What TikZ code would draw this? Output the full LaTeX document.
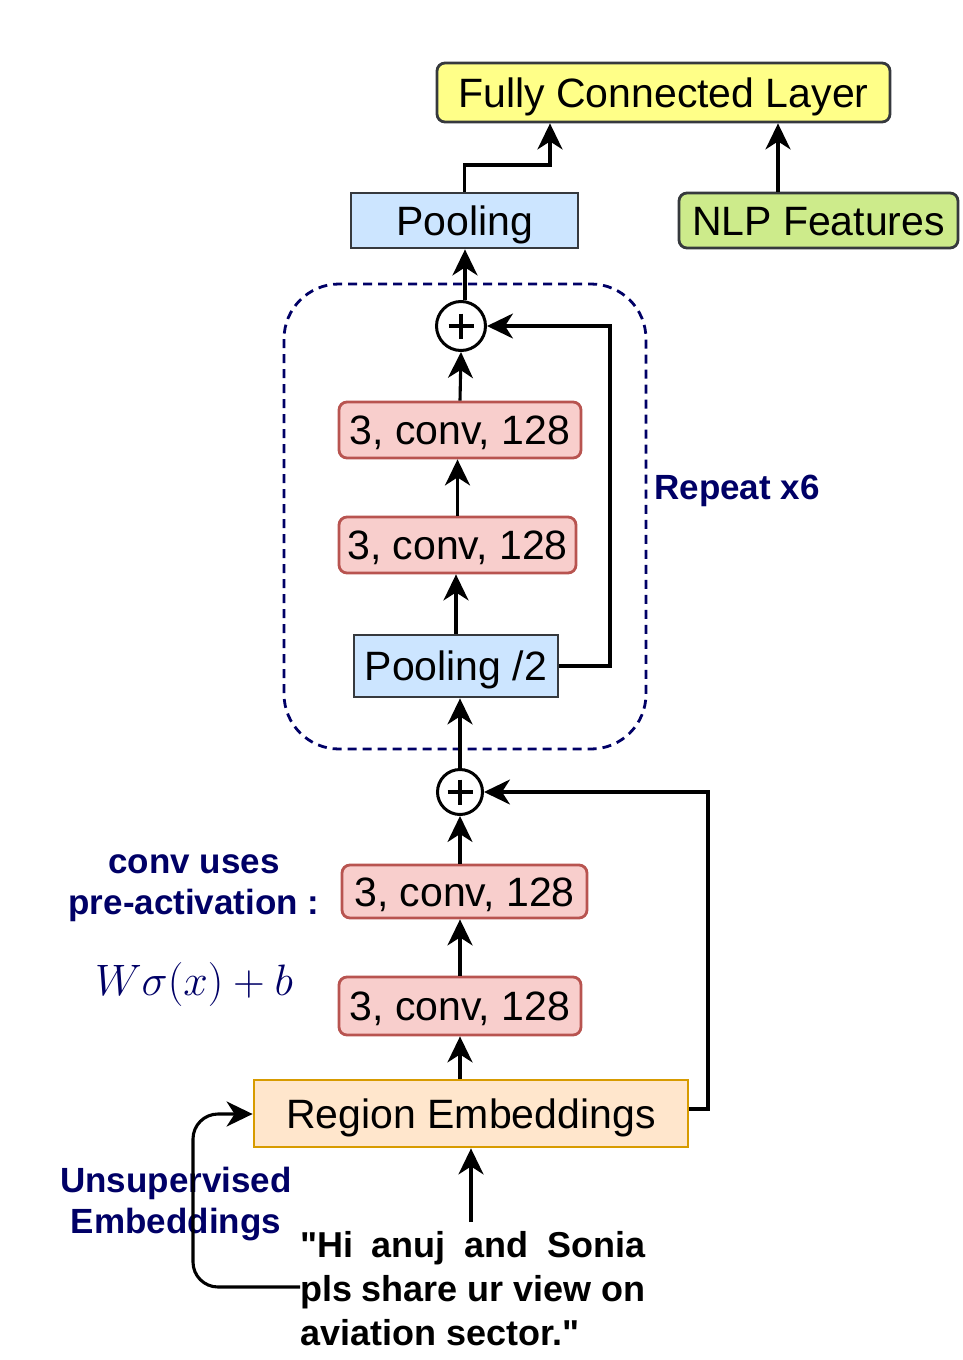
\RequirePackage{fix-cm}
\documentclass[tikz,border=0pt]{standalone}
\usepackage[no-math]{fontspec}
\setmainfont{Liberation Sans}
\newfontfamily\qfont{Liberation Sans}[Ligatures=TeXOff]
\usetikzlibrary{arrows.meta,calc}
\definecolor{navy}{HTML}{000066}
\definecolor{ylw}{HTML}{FFFF88}
\definecolor{blu}{HTML}{CCE5FF}
\definecolor{grn}{HTML}{CDEB8B}
\definecolor{pnk}{HTML}{F8CECC}
\definecolor{pnkd}{HTML}{B85450}
\definecolor{org}{HTML}{FFE6CC}
\definecolor{orgd}{HTML}{D79B00}
\definecolor{dgray}{HTML}{36393D}
\tikzset{
  boxbase/.style={draw, line width=2.8pt, inner sep=0pt, text height=29.3pt, text depth=0pt, font=\fontsize{41}{48}\selectfont},
  ybox/.style={boxbase, fill=ylw, draw=dgray, rounded corners=8pt},
  bbox/.style={boxbase, fill=blu, draw=dgray},
  gbox/.style={boxbase, fill=grn, draw=dgray, rounded corners=8pt},
  cbox/.style={boxbase, fill=pnk, draw=pnkd, rounded corners=8pt},
  obox/.style={boxbase, fill=org, draw=orgd},
  plus/.style={circle, draw, line width=3pt, fill=white, inner sep=0pt},
  plusbar/.style={line width=4.2pt},
  arr/.style={line width=3.1pt, -{Stealth[length=26pt,width=25pt,inset=8pt]}},
  note/.style={text=navy, font=\fontsize{35}{41}\selectfont\bfseries, align=center, inner sep=0pt},
}
\begin{document}
\begin{tikzpicture}[x=1pt,y=-1pt]
\useasboundingbox (0,0) rectangle (962,1360);
% dashed repeat box
\draw[navy, line width=2.8pt, dash pattern=on 9pt off 6pt, rounded corners=55pt] (284,284) rectangle (646,749);

\node[ybox, minimum width=453pt, minimum height=59pt] (fc) at (663.5,92.5) {Fully Connected Layer};
\node[bbox, minimum width=227pt, minimum height=55pt] (pool) at (464.5,220.5) {Pooling};
\node[gbox, minimum width=279pt, minimum height=55pt] (nlp) at (818.5,220.5) {NLP Features};
\node[plus, minimum size=49pt] (p1) at (461,326) {};
\draw[plusbar] (p1.center) ++(-12.5,0) -- ++(25,0) (p1.center) ++(0,-12.5) -- ++(0,25);
\node[cbox, minimum width=242pt, minimum height=56pt] (ca) at (460,430) {3, conv, 128};
\node[cbox, minimum width=237pt, minimum height=56pt] (cb) at (457.5,545) {3, conv, 128};
\node[bbox, minimum width=204pt, minimum height=62pt] (pool2) at (456,666) {Pooling /2};
\node[plus, minimum size=45pt] (p2) at (460,792) {};
\draw[plusbar] (p2.center) ++(-12.5,0) -- ++(25,0) (p2.center) ++(0,-12.5) -- ++(0,25);
\node[cbox, minimum width=245pt, minimum height=53pt] (cc) at (464.5,891.5) {3, conv, 128};
\node[cbox, minimum width=242pt, minimum height=58pt] (cd) at (460,1006) {3, conv, 128};
\node[obox, minimum width=434pt, minimum height=67pt] (re) at (471,1113.5) {Region Embeddings};

% notes
\node[note] (rep) at (737,491) {Repeat x6};
\node[note] (conv) at (194,888) {conv uses\\pre-activation :};
\node[text=navy, inner sep=0pt, font=\fontsize{44}{50}\selectfont] (eq) at (194,984) {$W\sigma(x)+b$};
\node[note] (uns) at (176,1204) {Unsupervised\\Embeddings};
\node[anchor=north west, align=left, inner sep=0pt, font=\fontsize{36}{44}\selectfont\qfont\bfseries] (quote) at (300,1231)
  {\makebox[345pt][s]{"Hi anuj and Sonia}\\\makebox[345pt][s]{pls share ur view on}\\aviation sector."};
\coordinate (qtop) at (471,1222);
\coordinate (qleft) at (300,1287);

% connectors
\draw[arr] (pool.north) -- (pool.north |- 0,165) -| (fc.south -| 550,0);
\draw[arr] (nlp.north -| 778,0) -- (fc.south -| 778,0);
\draw[arr] (p1.north -| 465,0) -- (pool.south -| 465,0);
\draw[arr] (ca.north) -- (p1.south);
\draw[arr] (cb.north) -- (ca.south -| cb.north);
\draw[arr] (pool2.north) -- (cb.south -| pool2.north);
\draw[arr] (pool2.east) -- (610,666) |- (p1.east);
\draw[arr] (p2.north) -- (pool2.south -| p2.north);
\draw[arr] (cc.north -| p2.south) -- (p2.south);
\draw[arr] (cd.north) -- (cc.south -| cd.north);
\draw[arr] (re.north -| cd.south) -- (cd.south);
\draw[arr] (re.east |- 0,1109) -- (708,1109) |- (p2.east);
\draw[arr] (qtop) -- (re.south -| qtop);
\draw[arr, rounded corners=25pt] (qleft) -- (193,1287) -- (193,1114) -- (re.west |- 0,1114);
\end{tikzpicture}
\end{document}
